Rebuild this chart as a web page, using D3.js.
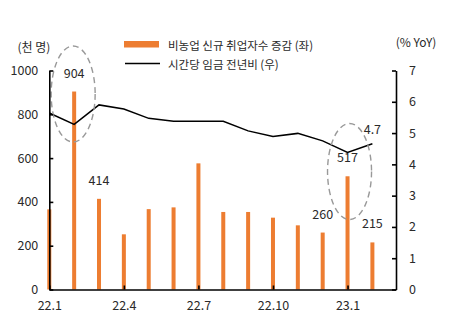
<!DOCTYPE html>
<html><head><meta charset="utf-8">
<script src="https://cdn.jsdelivr.net/npm/d3@7"></script>
<style>
html,body{margin:0;padding:0;background:#fff;}
svg{display:block;font-family:"Noto Sans CJK KR","Noto Sans",sans-serif;}
</style></head>
<body>
<svg id="c" width="462" height="324"></svg>
<script>
const months = ["22.1","22.2","22.3","22.4","22.5","22.6","22.7","22.8","22.9","22.10","22.11","22.12","23.1","23.2"];
const payrolls = [366, 904, 414, 252, 367, 375, 576, 354, 354, 328, 293, 260, 517, 215];
const wageYoY = [5.64, 5.28, 5.9, 5.77, 5.47, 5.38, 5.38, 5.38, 5.07, 4.89, 4.99, 4.75, 4.38, 4.66];
const barLabelIdx = [1, 2, 11, 12, 13];
const xTickLabels = ["22.1","22.4","22.7","22.10","23.1"];
const leftTicks = [0, 200, 400, 600, 800, 1000];
const rightTicks = [0, 1, 2, 3, 4, 5, 6, 7];
const seriesNames = ["비농업 신규 취업자수 증감 (좌)", "시간당 임금 전년비 (우)"];
const highlightIdx = [1, 12];

const svg = d3.select("#c");
const X0 = 49.3, X1 = 396, Y0 = 289.5, Y1 = 70.5;
const x = d3.scaleLinear().domain([0, 13.95]).range([X0, X1]);
const yL = d3.scaleLinear().domain([0, 1000]).range([Y0, Y1]);
const yR = d3.scaleLinear().domain([0, 7]).range([Y0, Y1]);
const orange = "#ED7D31", txt = "#2a2a2a";

// bars
svg.append("g").selectAll("rect").data(payrolls).join("rect")
  .attr("x", (d,i) => x(i) - 2).attr("width", 4)
  .attr("y", d => yL(d)).attr("height", d => Y0 - yL(d))
  .attr("fill", orange);

// line
const line = d3.line().x((d,i) => x(i)).y(d => yR(d));
svg.append("path").datum(wageYoY).attr("d", line)
  .attr("fill", "none").attr("stroke", "#000").attr("stroke-width", 1.5);

// dashed ellipses
svg.append("g").selectAll("ellipse").data(highlightIdx).join("ellipse")
  .attr("cx", i => x(i) + (i === 1 ? -1 : 2))
  .attr("cy", i => i === 1 ? 94 : 171.5)
  .attr("rx", 22).attr("ry", 48)
  .attr("fill", "none").attr("stroke", "#999").attr("stroke-width", 1.4)
  .attr("stroke-dasharray", "6,4");

// bar labels
svg.append("g").selectAll("text").data(barLabelIdx).join("text")
  .attr("x", i => x(i))
  .attr("y", i => yL(payrolls[i]) - 14)
  .attr("text-anchor", "middle").attr("font-size", 12.5).attr("fill", txt)
  .text(i => payrolls[i]);
// last line label
const li = wageYoY.length - 1;
svg.append("text").attr("x", x(li)).attr("y", yR(wageYoY[li]) - 9.5)
  .attr("text-anchor", "middle").attr("font-size", 12.5).attr("fill", txt)
  .text(d3.format(".1f")(wageYoY[li]));

// left axis
const axL = d3.axisLeft(yL).tickValues(leftTicks).tickFormat(d3.format("d")).tickSize(-4).tickPadding(11).tickSizeOuter(0);
const gL = svg.append("g").attr("transform", `translate(${X0},0)`).call(axL);
// right axis
const axR = d3.axisRight(yR).tickValues(rightTicks).tickFormat(d3.format("d")).tickSize(-4).tickPadding(13).tickSizeOuter(0);
const gR = svg.append("g").attr("transform", `translate(${X1},0)`).call(axR);
// bottom axis
const tickIdx = xTickLabels.map(l => months.indexOf(l));
const axB = d3.axisBottom(x).tickValues(tickIdx).tickFormat(i => months[i]).tickSize(-4).tickPadding(12).tickSizeOuter(0);
const gB = svg.append("g").attr("transform", `translate(0,${Y0})`).call(axB);
[gL, gR, gB].forEach(g => {
  g.select(".domain").attr("stroke", "#000").attr("stroke-width", 1.6);
  g.selectAll(".tick line").attr("stroke", "#000").attr("stroke-width", 1.6);
  g.selectAll(".tick text").attr("fill", txt).attr("font-size", 12.5)
    .attr("font-family", '"Noto Sans CJK KR","Noto Sans",sans-serif');
});

// axis titles
svg.append("text").attr("x", 34).attr("y", 52).attr("text-anchor", "middle")
  .attr("font-size", 12).attr("fill", txt).text("(천 명)");
svg.append("text").attr("x", 416).attr("y", 47).attr("text-anchor", "middle")
  .attr("font-size", 12).attr("fill", txt).text("(% YoY)");

// legend
const lg = svg.append("g");
lg.append("rect").attr("x", 124).attr("y", 41).attr("width", 35).attr("height", 6.5).attr("fill", orange);
lg.append("line").attr("x1", 125).attr("x2", 160).attr("y1", 63.5).attr("y2", 63.5).attr("stroke", "#000").attr("stroke-width", 1.5);
lg.selectAll("text").data(seriesNames).join("text")
  .attr("x", 168).attr("y", (d,i) => i === 0 ? 44.5 : 63.5)
  .attr("dominant-baseline", "central")
  .attr("font-size", 11.5).attr("fill", txt).text(d => d);
</script>
</body></html>
